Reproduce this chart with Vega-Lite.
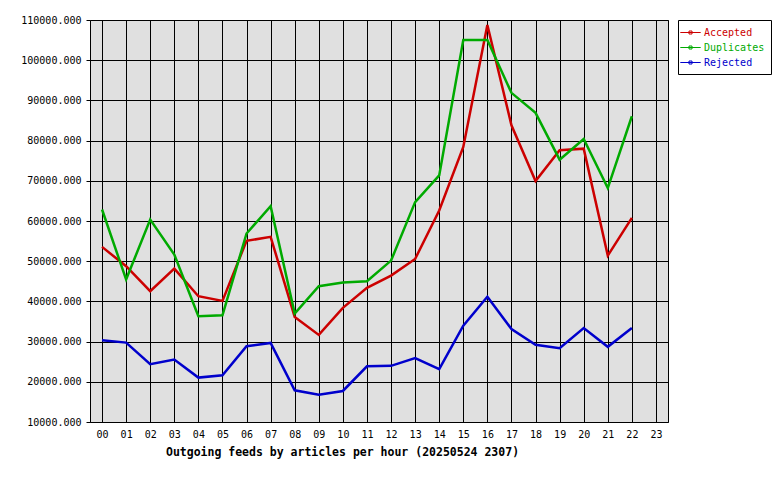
{
  "$schema": "https://vega.github.io/schema/vega-lite/v6.json",
  "autosize": "none",
  "width": 578,
  "height": 402,
  "padding": {"left": 90, "top": 20, "right": 112, "bottom": 58},
  "background": "white",
  "data": {
    "values": [
      {"hour": "00", "series": "Accepted", "value": 53570},
      {"hour": "01", "series": "Accepted", "value": 48750},
      {"hour": "02", "series": "Accepted", "value": 42530},
      {"hour": "03", "series": "Accepted", "value": 48170},
      {"hour": "04", "series": "Accepted", "value": 41290},
      {"hour": "05", "series": "Accepted", "value": 40120},
      {"hour": "06", "series": "Accepted", "value": 55060},
      {"hour": "07", "series": "Accepted", "value": 56060},
      {"hour": "08", "series": "Accepted", "value": 36140},
      {"hour": "09", "series": "Accepted", "value": 31660},
      {"hour": "10", "series": "Accepted", "value": 38380},
      {"hour": "11", "series": "Accepted", "value": 43360},
      {"hour": "12", "series": "Accepted", "value": 46410},
      {"hour": "13", "series": "Accepted", "value": 50560},
      {"hour": "14", "series": "Accepted", "value": 62620},
      {"hour": "15", "series": "Accepted", "value": 78410},
      {"hour": "16", "series": "Accepted", "value": 108750},
      {"hour": "17", "series": "Accepted", "value": 83820},
      {"hour": "18", "series": "Accepted", "value": 69930},
      {"hour": "19", "series": "Accepted", "value": 77580},
      {"hour": "20", "series": "Accepted", "value": 78000},
      {"hour": "21", "series": "Accepted", "value": 51400},
      {"hour": "22", "series": "Accepted", "value": 60790},
      {"hour": "00", "series": "Duplicates", "value": 62860},
      {"hour": "01", "series": "Duplicates", "value": 45440},
      {"hour": "02", "series": "Duplicates", "value": 60370},
      {"hour": "03", "series": "Duplicates", "value": 51660},
      {"hour": "04", "series": "Duplicates", "value": 36300},
      {"hour": "05", "series": "Duplicates", "value": 36550},
      {"hour": "06", "series": "Duplicates", "value": 56890},
      {"hour": "07", "series": "Duplicates", "value": 63700},
      {"hour": "08", "series": "Duplicates", "value": 36970},
      {"hour": "09", "series": "Duplicates", "value": 43780},
      {"hour": "10", "series": "Duplicates", "value": 44690},
      {"hour": "11", "series": "Duplicates", "value": 45020},
      {"hour": "12", "series": "Duplicates", "value": 50150},
      {"hour": "13", "series": "Duplicates", "value": 64700},
      {"hour": "14", "series": "Duplicates", "value": 71350},
      {"hour": "15", "series": "Duplicates", "value": 105000},
      {"hour": "16", "series": "Duplicates", "value": 105000},
      {"hour": "17", "series": "Duplicates", "value": 91880},
      {"hour": "18", "series": "Duplicates", "value": 86890},
      {"hour": "19", "series": "Duplicates", "value": 75250},
      {"hour": "20", "series": "Duplicates", "value": 80410},
      {"hour": "21", "series": "Duplicates", "value": 68190},
      {"hour": "22", "series": "Duplicates", "value": 86060},
      {"hour": "00", "series": "Rejected", "value": 30330},
      {"hour": "01", "series": "Rejected", "value": 29750},
      {"hour": "02", "series": "Rejected", "value": 24360},
      {"hour": "03", "series": "Rejected", "value": 25520},
      {"hour": "04", "series": "Rejected", "value": 21040},
      {"hour": "05", "series": "Rejected", "value": 21620},
      {"hour": "06", "series": "Rejected", "value": 28840},
      {"hour": "07", "series": "Rejected", "value": 29670},
      {"hour": "08", "series": "Rejected", "value": 17880},
      {"hour": "09", "series": "Rejected", "value": 16800},
      {"hour": "10", "series": "Rejected", "value": 17720},
      {"hour": "11", "series": "Rejected", "value": 23860},
      {"hour": "12", "series": "Rejected", "value": 23970},
      {"hour": "13", "series": "Rejected", "value": 25880},
      {"hour": "14", "series": "Rejected", "value": 23130},
      {"hour": "15", "series": "Rejected", "value": 33940},
      {"hour": "16", "series": "Rejected", "value": 41170},
      {"hour": "17", "series": "Rejected", "value": 33110},
      {"hour": "18", "series": "Rejected", "value": 29200},
      {"hour": "19", "series": "Rejected", "value": 28370},
      {"hour": "20", "series": "Rejected", "value": 33360},
      {"hour": "21", "series": "Rejected", "value": 28700},
      {"hour": "22", "series": "Rejected", "value": 33360}
    ]
  },
  "mark": {"type": "line", "strokeWidth": 2.5, "strokeJoin": "miter", "clip": true},
  "encoding": {
    "x": {
      "field": "hour",
      "type": "ordinal",
      "scale": {
        "domain": ["00","01","02","03","04","05","06","07","08","09","10","11","12","13","14","15","16","17","18","19","20","21","22","23"],
        "padding": 0.5
      },
      "axis": {
        "title": "Outgoing feeds by articles per hour (20250524 2307)",
        "labelAngle": 0,
        "ticks": false,
        "domain": false,
        "grid": true,
        "labelPadding": 7,
        "titleFontWeight": "bold",
        "titleFontSize": 11.5,
        "titleAlign": "center",
        "titleBaseline": "middle",
        "titleX": 252,
        "titleY": 30
      }
    },
    "y": {
      "field": "value",
      "type": "quantitative",
      "scale": {"domain": [10000, 110000], "nice": false, "zero": false},
      "axis": {
        "title": null,
        "values": [10000, 20000, 30000, 40000, 50000, 60000, 70000, 80000, 90000, 100000, 110000],
        "format": ".3f",
        "domain": false,
        "grid": true,
        "tickSize": 4,
        "labelPadding": 5
      }
    },
    "color": {
      "field": "series",
      "type": "nominal",
      "scale": {
        "domain": ["Accepted", "Duplicates", "Rejected"],
        "range": ["#cc0000", "#00aa00", "#0000cc"]
      },
      "legend": {
        "title": null,
        "orient": "none",
        "legendX": 588,
        "legendY": 0,
        "strokeColor": "black",
        "fillColor": "white",
        "padding": 6,
        "rowPadding": 3,
        "symbolType": "M-1.7,0H1.7M-0.25,-0.25H0.25V0.25H-0.25Z",
        "symbolSize": 144,
        "symbolStrokeWidth": 1,
        "labelOffset": 7,
        "encode": {
          "labels": {"update": {"fill": {"scale": "color", "field": "value"}}}
        }
      }
    }
  },
  "config": {
    "font": "DejaVu Sans Mono",
    "view": {"fill": "#e0e0e0", "stroke": "black", "strokeWidth": 1},
    "axis": {
      "labelFont": "DejaVu Sans Mono",
      "titleFont": "DejaVu Sans Mono",
      "labelFontSize": 10,
      "labelColor": "black",
      "titleColor": "black",
      "gridColor": "black",
      "gridOpacity": 1,
      "gridWidth": 1,
      "tickColor": "black",
      "tickWidth": 1
    },
    "legend": {
      "labelFont": "DejaVu Sans Mono",
      "labelFontSize": 10
    }
  }
}
